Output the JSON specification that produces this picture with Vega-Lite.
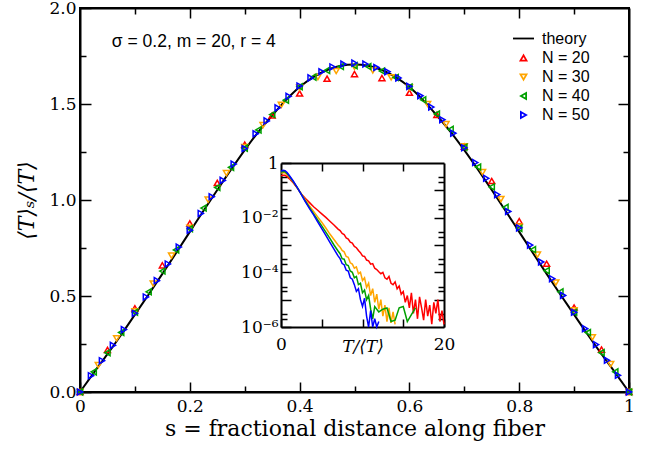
{
  "$schema": "https://vega.github.io/schema/vega-lite/v6.json",
  "width": 549,
  "height": 384,
  "autosize": {"type": "none"},
  "padding": {"left": 80, "top": 8, "right": 17, "bottom": 61},
  "background": "white",
  "config": {
    "view": {"stroke": "black", "strokeWidth": 2},
    "axis": {"labelFlush": false, "labelOverlap": false, "labelBound": false, "grid": false, "domainColor": "black", "domainWidth": 2, "tickColor": "black", "tickWidth": 1.5, "labelColor": "black", "titleColor": "black", "titleFontWeight": "normal"}
  },
  "datasets": {
    "theory": [
      {"s": 0, "y": 0}, {"s": 0.025, "y": 0.1}, {"s": 0.05, "y": 0.197}, {"s": 0.075, "y": 0.298}, {"s": 0.1, "y": 0.403}, {"s": 0.125, "y": 0.508}, {"s": 0.15, "y": 0.615}, {"s": 0.175, "y": 0.724}, {"s": 0.2, "y": 0.834}, {"s": 0.225, "y": 0.944}, {"s": 0.25, "y": 1.052}, {"s": 0.275, "y": 1.158}, {"s": 0.3, "y": 1.26}, {"s": 0.325, "y": 1.355}, {"s": 0.35, "y": 1.44}, {"s": 0.375, "y": 1.52}, {"s": 0.4, "y": 1.588}, {"s": 0.425, "y": 1.64}, {"s": 0.45, "y": 1.677}, {"s": 0.475, "y": 1.699}, {"s": 0.5, "y": 1.706},
      {"s": 0.525, "y": 1.699}, {"s": 0.55, "y": 1.677}, {"s": 0.575, "y": 1.64}, {"s": 0.6, "y": 1.588}, {"s": 0.625, "y": 1.52}, {"s": 0.65, "y": 1.44}, {"s": 0.675, "y": 1.355}, {"s": 0.7, "y": 1.26}, {"s": 0.725, "y": 1.158}, {"s": 0.75, "y": 1.052}, {"s": 0.775, "y": 0.944}, {"s": 0.8, "y": 0.834}, {"s": 0.825, "y": 0.724}, {"s": 0.85, "y": 0.615}, {"s": 0.875, "y": 0.508}, {"s": 0.9, "y": 0.403}, {"s": 0.925, "y": 0.298}, {"s": 0.95, "y": 0.197}, {"s": 0.975, "y": 0.1}, {"s": 1, "y": 0}
    ],
    "pts": [
      {"s": 0, "y": 0, "series": "N = 20"}, {"s": 0.05, "y": 0.219, "series": "N = 20"}, {"s": 0.1, "y": 0.436, "series": "N = 20"}, {"s": 0.15, "y": 0.66, "series": "N = 20"}, {"s": 0.2, "y": 0.878, "series": "N = 20"}, {"s": 0.25, "y": 1.089, "series": "N = 20"}, {"s": 0.3, "y": 1.288, "series": "N = 20"}, {"s": 0.35, "y": 1.44, "series": "N = 20"}, {"s": 0.4, "y": 1.555, "series": "N = 20"}, {"s": 0.45, "y": 1.632, "series": "N = 20"}, {"s": 0.5, "y": 1.656, "series": "N = 20"}, {"s": 0.55, "y": 1.635, "series": "N = 20"}, {"s": 0.6, "y": 1.559, "series": "N = 20"}, {"s": 0.65, "y": 1.443, "series": "N = 20"}, {"s": 0.7, "y": 1.278, "series": "N = 20"}, {"s": 0.75, "y": 1.099, "series": "N = 20"}, {"s": 0.8, "y": 0.89, "series": "N = 20"}, {"s": 0.85, "y": 0.668, "series": "N = 20"}, {"s": 0.9, "y": 0.44, "series": "N = 20"}, {"s": 0.95, "y": 0.221, "series": "N = 20"}, {"s": 1, "y": 0, "series": "N = 20"},
      {"s": 0, "y": 0, "series": "N = 30"}, {"s": 0.0333, "y": 0.14, "series": "N = 30"}, {"s": 0.0667, "y": 0.28, "series": "N = 30"}, {"s": 0.1, "y": 0.42, "series": "N = 30"}, {"s": 0.1333, "y": 0.565, "series": "N = 30"}, {"s": 0.1667, "y": 0.71, "series": "N = 30"}, {"s": 0.2, "y": 0.855, "series": "N = 30"}, {"s": 0.2333, "y": 1.002, "series": "N = 30"}, {"s": 0.2667, "y": 1.14, "series": "N = 30"}, {"s": 0.3, "y": 1.275, "series": "N = 30"}, {"s": 0.3333, "y": 1.39, "series": "N = 30"}, {"s": 0.3667, "y": 1.495, "series": "N = 30"}, {"s": 0.4, "y": 1.585, "series": "N = 30"}, {"s": 0.4333, "y": 1.64, "series": "N = 30"}, {"s": 0.4667, "y": 1.672, "series": "N = 30"}, {"s": 0.5, "y": 1.694, "series": "N = 30"}, {"s": 0.5333, "y": 1.675, "series": "N = 30"}, {"s": 0.5667, "y": 1.639, "series": "N = 30"}, {"s": 0.6, "y": 1.585, "series": "N = 30"}, {"s": 0.6333, "y": 1.5, "series": "N = 30"}, {"s": 0.6667, "y": 1.395, "series": "N = 30"}, {"s": 0.7, "y": 1.28, "series": "N = 30"}, {"s": 0.7333, "y": 1.145, "series": "N = 30"}, {"s": 0.7667, "y": 1.005, "series": "N = 30"}, {"s": 0.8, "y": 0.862, "series": "N = 30"}, {"s": 0.8333, "y": 0.715, "series": "N = 30"}, {"s": 0.8667, "y": 0.57, "series": "N = 30"}, {"s": 0.9, "y": 0.425, "series": "N = 30"}, {"s": 0.9333, "y": 0.285, "series": "N = 30"}, {"s": 0.9667, "y": 0.145, "series": "N = 30"}, {"s": 1, "y": 0, "series": "N = 30"},
      {"s": 0, "y": 0, "series": "N = 40"}, {"s": 0.025, "y": 0.105, "series": "N = 40"}, {"s": 0.05, "y": 0.205, "series": "N = 40"}, {"s": 0.075, "y": 0.31, "series": "N = 40"}, {"s": 0.1, "y": 0.415, "series": "N = 40"}, {"s": 0.125, "y": 0.522, "series": "N = 40"}, {"s": 0.15, "y": 0.63, "series": "N = 40"}, {"s": 0.175, "y": 0.74, "series": "N = 40"}, {"s": 0.2, "y": 0.85, "series": "N = 40"}, {"s": 0.225, "y": 0.958, "series": "N = 40"}, {"s": 0.25, "y": 1.065, "series": "N = 40"}, {"s": 0.275, "y": 1.17, "series": "N = 40"}, {"s": 0.3, "y": 1.27, "series": "N = 40"}, {"s": 0.325, "y": 1.365, "series": "N = 40"}, {"s": 0.35, "y": 1.445, "series": "N = 40"}, {"s": 0.375, "y": 1.52, "series": "N = 40"}, {"s": 0.4, "y": 1.59, "series": "N = 40"}, {"s": 0.425, "y": 1.64, "series": "N = 40"}, {"s": 0.45, "y": 1.675, "series": "N = 40"}, {"s": 0.475, "y": 1.695, "series": "N = 40"}, {"s": 0.5, "y": 1.7, "series": "N = 40"}, {"s": 0.525, "y": 1.695, "series": "N = 40"}, {"s": 0.55, "y": 1.672, "series": "N = 40"}, {"s": 0.575, "y": 1.638, "series": "N = 40"}, {"s": 0.6, "y": 1.588, "series": "N = 40"}, {"s": 0.625, "y": 1.522, "series": "N = 40"}, {"s": 0.65, "y": 1.448, "series": "N = 40"}, {"s": 0.675, "y": 1.368, "series": "N = 40"}, {"s": 0.7, "y": 1.275, "series": "N = 40"}, {"s": 0.725, "y": 1.172, "series": "N = 40"}, {"s": 0.75, "y": 1.068, "series": "N = 40"}, {"s": 0.775, "y": 0.962, "series": "N = 40"}, {"s": 0.8, "y": 0.852, "series": "N = 40"}, {"s": 0.825, "y": 0.742, "series": "N = 40"}, {"s": 0.85, "y": 0.632, "series": "N = 40"}, {"s": 0.875, "y": 0.522, "series": "N = 40"}, {"s": 0.9, "y": 0.415, "series": "N = 40"}, {"s": 0.925, "y": 0.31, "series": "N = 40"}, {"s": 0.95, "y": 0.205, "series": "N = 40"}, {"s": 0.975, "y": 0.105, "series": "N = 40"}, {"s": 1, "y": 0, "series": "N = 40"},
      {"s": 0, "y": 0, "series": "N = 50"}, {"s": 0.02, "y": 0.085, "series": "N = 50"}, {"s": 0.04, "y": 0.163, "series": "N = 50"}, {"s": 0.06, "y": 0.243, "series": "N = 50"}, {"s": 0.08, "y": 0.325, "series": "N = 50"}, {"s": 0.1, "y": 0.41, "series": "N = 50"}, {"s": 0.12, "y": 0.495, "series": "N = 50"}, {"s": 0.14, "y": 0.58, "series": "N = 50"}, {"s": 0.16, "y": 0.667, "series": "N = 50"}, {"s": 0.18, "y": 0.755, "series": "N = 50"}, {"s": 0.2, "y": 0.843, "series": "N = 50"}, {"s": 0.22, "y": 0.93, "series": "N = 50"}, {"s": 0.24, "y": 1.017, "series": "N = 50"}, {"s": 0.26, "y": 1.102, "series": "N = 50"}, {"s": 0.28, "y": 1.187, "series": "N = 50"}, {"s": 0.3, "y": 1.268, "series": "N = 50"}, {"s": 0.32, "y": 1.345, "series": "N = 50"}, {"s": 0.34, "y": 1.412, "series": "N = 50"}, {"s": 0.36, "y": 1.48, "series": "N = 50"}, {"s": 0.38, "y": 1.54, "series": "N = 50"}, {"s": 0.4, "y": 1.594, "series": "N = 50"}, {"s": 0.42, "y": 1.636, "series": "N = 50"}, {"s": 0.44, "y": 1.668, "series": "N = 50"}, {"s": 0.46, "y": 1.693, "series": "N = 50"}, {"s": 0.48, "y": 1.708, "series": "N = 50"}, {"s": 0.5, "y": 1.713, "series": "N = 50"}, {"s": 0.52, "y": 1.708, "series": "N = 50"}, {"s": 0.54, "y": 1.69, "series": "N = 50"}, {"s": 0.56, "y": 1.668, "series": "N = 50"}, {"s": 0.58, "y": 1.636, "series": "N = 50"}, {"s": 0.6, "y": 1.592, "series": "N = 50"}, {"s": 0.62, "y": 1.543, "series": "N = 50"}, {"s": 0.64, "y": 1.484, "series": "N = 50"}, {"s": 0.66, "y": 1.418, "series": "N = 50"}, {"s": 0.68, "y": 1.348, "series": "N = 50"}, {"s": 0.7, "y": 1.272, "series": "N = 50"}, {"s": 0.72, "y": 1.195, "series": "N = 50"}, {"s": 0.74, "y": 1.113, "series": "N = 50"}, {"s": 0.76, "y": 1.028, "series": "N = 50"}, {"s": 0.78, "y": 0.94, "series": "N = 50"}, {"s": 0.8, "y": 0.855, "series": "N = 50"}, {"s": 0.82, "y": 0.765, "series": "N = 50"}, {"s": 0.84, "y": 0.677, "series": "N = 50"}, {"s": 0.86, "y": 0.59, "series": "N = 50"}, {"s": 0.88, "y": 0.503, "series": "N = 50"}, {"s": 0.9, "y": 0.415, "series": "N = 50"}, {"s": 0.92, "y": 0.33, "series": "N = 50"}, {"s": 0.94, "y": 0.247, "series": "N = 50"}, {"s": 0.96, "y": 0.165, "series": "N = 50"}, {"s": 0.98, "y": 0.087, "series": "N = 50"}, {"s": 1, "y": 0, "series": "N = 50"}
    ],
    "note": [{"s": 0.058, "y": 1.824, "label": "σ = 0.2, m = 20, r = 4"}],
    "inset": [
      {"x": 0, "lg": -0.47, "series": "N = 20"}, {"x": 0.25, "lg": -0.45, "series": "N = 20"}, {"x": 0.5, "lg": -0.45, "series": "N = 20"}, {"x": 0.75, "lg": -0.5, "series": "N = 20"}, {"x": 1, "lg": -0.57, "series": "N = 20"}, {"x": 1.5, "lg": -0.72, "series": "N = 20"}, {"x": 2, "lg": -0.92, "series": "N = 20"}, {"x": 2.5, "lg": -1.13, "series": "N = 20"}, {"x": 3, "lg": -1.3, "series": "N = 20"}, {"x": 3.5, "lg": -1.45, "series": "N = 20"}, {"x": 4, "lg": -1.6, "series": "N = 20"}, {"x": 4.5, "lg": -1.73, "series": "N = 20"}, {"x": 5, "lg": -1.86, "series": "N = 20"}, {"x": 5.5, "lg": -1.99, "series": "N = 20"}, {"x": 6, "lg": -2.13, "series": "N = 20"}, {"x": 6.5, "lg": -2.27, "series": "N = 20"}, {"x": 7, "lg": -2.42, "series": "N = 20"}, {"x": 7.25, "lg": -2.47, "series": "N = 20"}, {"x": 7.5, "lg": -2.58, "series": "N = 20"}, {"x": 7.75, "lg": -2.62, "series": "N = 20"}, {"x": 8, "lg": -2.74, "series": "N = 20"}, {"x": 8.25, "lg": -2.78, "series": "N = 20"}, {"x": 8.5, "lg": -2.9, "series": "N = 20"}, {"x": 8.75, "lg": -2.93, "series": "N = 20"}, {"x": 9, "lg": -3.05, "series": "N = 20"}, {"x": 9.25, "lg": -3.1, "series": "N = 20"}, {"x": 9.5, "lg": -3.2, "series": "N = 20"}, {"x": 9.75, "lg": -3.28, "series": "N = 20"}, {"x": 10, "lg": -3.4, "series": "N = 20"}, {"x": 10.25, "lg": -3.42, "series": "N = 20"}, {"x": 10.5, "lg": -3.55, "series": "N = 20"}, {"x": 10.75, "lg": -3.58, "series": "N = 20"}, {"x": 11, "lg": -3.7, "series": "N = 20"}, {"x": 11.25, "lg": -3.68, "series": "N = 20"}, {"x": 11.5, "lg": -3.85, "series": "N = 20"}, {"x": 11.75, "lg": -3.9, "series": "N = 20"}, {"x": 12, "lg": -3.98, "series": "N = 20"}, {"x": 12.25, "lg": -4.05, "series": "N = 20"}, {"x": 12.5, "lg": -4.0, "series": "N = 20"}, {"x": 12.75, "lg": -4.2, "series": "N = 20"}, {"x": 13, "lg": -4.25, "series": "N = 20"}, {"x": 13.25, "lg": -4.15, "series": "N = 20"}, {"x": 13.5, "lg": -4.4, "series": "N = 20"}, {"x": 13.75, "lg": -4.45, "series": "N = 20"}, {"x": 14, "lg": -4.35, "series": "N = 20"}, {"x": 14.25, "lg": -4.6, "series": "N = 20"}, {"x": 14.5, "lg": -4.5, "series": "N = 20"}, {"x": 14.75, "lg": -4.8, "series": "N = 20"}, {"x": 15, "lg": -4.7, "series": "N = 20"}, {"x": 15.25, "lg": -5.1, "series": "N = 20"}, {"x": 15.5, "lg": -4.85, "series": "N = 20"}, {"x": 15.75, "lg": -5.3, "series": "N = 20"}, {"x": 16, "lg": -4.75, "series": "N = 20"}, {"x": 16.25, "lg": -5.5, "series": "N = 20"}, {"x": 16.5, "lg": -5.0, "series": "N = 20"}, {"x": 16.75, "lg": -5.7, "series": "N = 20"}, {"x": 17, "lg": -4.9, "series": "N = 20"}, {"x": 17.25, "lg": -5.3, "series": "N = 20"}, {"x": 17.5, "lg": -5.75, "series": "N = 20"}, {"x": 17.75, "lg": -5.0, "series": "N = 20"}, {"x": 18, "lg": -5.6, "series": "N = 20"}, {"x": 18.25, "lg": -5.2, "series": "N = 20"}, {"x": 18.5, "lg": -5.9, "series": "N = 20"}, {"x": 18.75, "lg": -5.1, "series": "N = 20"}, {"x": 19, "lg": -5.5, "series": "N = 20"}, {"x": 19.25, "lg": -5.0, "series": "N = 20"}, {"x": 19.5, "lg": -5.8, "series": "N = 20"}, {"x": 19.75, "lg": -5.4, "series": "N = 20"}, {"x": 20, "lg": -5.9, "series": "N = 20"},
      {"x": 0, "lg": -0.37, "series": "N = 30"}, {"x": 0.25, "lg": -0.35, "series": "N = 30"}, {"x": 0.5, "lg": -0.36, "series": "N = 30"}, {"x": 0.75, "lg": -0.42, "series": "N = 30"}, {"x": 1, "lg": -0.5, "series": "N = 30"}, {"x": 1.5, "lg": -0.69, "series": "N = 30"}, {"x": 2, "lg": -0.91, "series": "N = 30"}, {"x": 2.5, "lg": -1.14, "series": "N = 30"}, {"x": 3, "lg": -1.36, "series": "N = 30"}, {"x": 3.5, "lg": -1.57, "series": "N = 30"}, {"x": 4, "lg": -1.77, "series": "N = 30"}, {"x": 4.5, "lg": -1.97, "series": "N = 30"}, {"x": 5, "lg": -2.17, "series": "N = 30"}, {"x": 5.5, "lg": -2.38, "series": "N = 30"}, {"x": 6, "lg": -2.6, "series": "N = 30"}, {"x": 6.5, "lg": -2.8, "series": "N = 30"}, {"x": 7, "lg": -3.0, "series": "N = 30"}, {"x": 7.25, "lg": -3.08, "series": "N = 30"}, {"x": 7.5, "lg": -3.2, "series": "N = 30"}, {"x": 7.75, "lg": -3.25, "series": "N = 30"}, {"x": 8, "lg": -3.42, "series": "N = 30"}, {"x": 8.25, "lg": -3.45, "series": "N = 30"}, {"x": 8.5, "lg": -3.65, "series": "N = 30"}, {"x": 8.75, "lg": -3.7, "series": "N = 30"}, {"x": 9, "lg": -3.85, "series": "N = 30"}, {"x": 9.25, "lg": -3.8, "series": "N = 30"}, {"x": 9.5, "lg": -4.05, "series": "N = 30"}, {"x": 9.75, "lg": -4.0, "series": "N = 30"}, {"x": 10, "lg": -4.3, "series": "N = 30"}, {"x": 10.25, "lg": -4.2, "series": "N = 30"}, {"x": 10.5, "lg": -4.55, "series": "N = 30"}, {"x": 10.75, "lg": -4.4, "series": "N = 30"}, {"x": 11, "lg": -4.85, "series": "N = 30"}, {"x": 11.25, "lg": -4.6, "series": "N = 30"}, {"x": 11.5, "lg": -5.1, "series": "N = 30"}, {"x": 11.75, "lg": -4.8, "series": "N = 30"}, {"x": 12, "lg": -5.35, "series": "N = 30"}, {"x": 12.25, "lg": -5.0, "series": "N = 30"}, {"x": 12.5, "lg": -5.6, "series": "N = 30"}, {"x": 12.75, "lg": -5.2, "series": "N = 30"}, {"x": 13, "lg": -5.8, "series": "N = 30"}, {"x": 13.25, "lg": -5.3, "series": "N = 30"}, {"x": 13.5, "lg": -5.85, "series": "N = 30"}, {"x": 13.75, "lg": -5.45, "series": "N = 30"}, {"x": 14, "lg": -5.9, "series": "N = 30"},
      {"x": 0, "lg": -0.33, "series": "N = 40"}, {"x": 0.25, "lg": -0.31, "series": "N = 40"}, {"x": 0.5, "lg": -0.32, "series": "N = 40"}, {"x": 0.75, "lg": -0.39, "series": "N = 40"}, {"x": 1, "lg": -0.48, "series": "N = 40"}, {"x": 1.5, "lg": -0.68, "series": "N = 40"}, {"x": 2, "lg": -0.9, "series": "N = 40"}, {"x": 2.5, "lg": -1.15, "series": "N = 40"}, {"x": 3, "lg": -1.4, "series": "N = 40"}, {"x": 3.5, "lg": -1.63, "series": "N = 40"}, {"x": 4, "lg": -1.86, "series": "N = 40"}, {"x": 4.5, "lg": -2.08, "series": "N = 40"}, {"x": 5, "lg": -2.3, "series": "N = 40"}, {"x": 5.5, "lg": -2.53, "series": "N = 40"}, {"x": 6, "lg": -2.76, "series": "N = 40"}, {"x": 6.5, "lg": -3.0, "series": "N = 40"}, {"x": 7, "lg": -3.22, "series": "N = 40"}, {"x": 7.25, "lg": -3.32, "series": "N = 40"}, {"x": 7.5, "lg": -3.5, "series": "N = 40"}, {"x": 7.75, "lg": -3.52, "series": "N = 40"}, {"x": 8, "lg": -3.72, "series": "N = 40"}, {"x": 8.25, "lg": -3.75, "series": "N = 40"}, {"x": 8.5, "lg": -3.95, "series": "N = 40"}, {"x": 8.75, "lg": -4.0, "series": "N = 40"}, {"x": 9, "lg": -4.2, "series": "N = 40"}, {"x": 9.25, "lg": -4.15, "series": "N = 40"}, {"x": 9.5, "lg": -4.45, "series": "N = 40"}, {"x": 9.75, "lg": -4.4, "series": "N = 40"}, {"x": 10, "lg": -4.75, "series": "N = 40"}, {"x": 10.25, "lg": -4.65, "series": "N = 40"}, {"x": 10.5, "lg": -5.0, "series": "N = 40"}, {"x": 10.75, "lg": -4.85, "series": "N = 40"}, {"x": 11, "lg": -5.35, "series": "N = 40"}, {"x": 11.25, "lg": -5.7, "series": "N = 40"}, {"x": 11.5, "lg": -5.25, "series": "N = 40"}, {"x": 12, "lg": -5.45, "series": "N = 40"}, {"x": 12.5, "lg": -5.35, "series": "N = 40"}, {"x": 13, "lg": -5.3, "series": "N = 40"}, {"x": 13.5, "lg": -5.8, "series": "N = 40"}, {"x": 14, "lg": -5.75, "series": "N = 40"}, {"x": 14.5, "lg": -5.3, "series": "N = 40"}, {"x": 15, "lg": -5.25, "series": "N = 40"}, {"x": 15.5, "lg": -5.8, "series": "N = 40"}, {"x": 16, "lg": -5.55, "series": "N = 40"}, {"x": 16.5, "lg": -5.3, "series": "N = 40"},
      {"x": 0, "lg": -0.3, "series": "N = 50"}, {"x": 0.25, "lg": -0.27, "series": "N = 50"}, {"x": 0.5, "lg": -0.28, "series": "N = 50"}, {"x": 0.75, "lg": -0.35, "series": "N = 50"}, {"x": 1, "lg": -0.45, "series": "N = 50"}, {"x": 1.5, "lg": -0.66, "series": "N = 50"}, {"x": 2, "lg": -0.9, "series": "N = 50"}, {"x": 2.5, "lg": -1.16, "series": "N = 50"}, {"x": 3, "lg": -1.42, "series": "N = 50"}, {"x": 3.5, "lg": -1.67, "series": "N = 50"}, {"x": 4, "lg": -1.9, "series": "N = 50"}, {"x": 4.5, "lg": -2.15, "series": "N = 50"}, {"x": 5, "lg": -2.4, "series": "N = 50"}, {"x": 5.5, "lg": -2.65, "series": "N = 50"}, {"x": 6, "lg": -2.9, "series": "N = 50"}, {"x": 6.5, "lg": -3.15, "series": "N = 50"}, {"x": 7, "lg": -3.4, "series": "N = 50"}, {"x": 7.25, "lg": -3.5, "series": "N = 50"}, {"x": 7.5, "lg": -3.68, "series": "N = 50"}, {"x": 7.75, "lg": -3.72, "series": "N = 50"}, {"x": 8, "lg": -3.92, "series": "N = 50"}, {"x": 8.25, "lg": -3.95, "series": "N = 50"}, {"x": 8.5, "lg": -4.2, "series": "N = 50"}, {"x": 8.75, "lg": -4.25, "series": "N = 50"}, {"x": 9, "lg": -4.45, "series": "N = 50"}, {"x": 9.25, "lg": -4.7, "series": "N = 50"}, {"x": 9.5, "lg": -4.6, "series": "N = 50"}, {"x": 9.75, "lg": -5.0, "series": "N = 50"}, {"x": 10, "lg": -5.25, "series": "N = 50"}, {"x": 10.25, "lg": -4.95, "series": "N = 50"}, {"x": 10.5, "lg": -5.6, "series": "N = 50"}, {"x": 10.75, "lg": -6.2, "series": "N = 50"}, {"x": 11, "lg": -5.4, "series": "N = 50"}, {"x": 11.25, "lg": -6.3, "series": "N = 50"}, {"x": 11.5, "lg": -5.7, "series": "N = 50"}, {"x": 11.75, "lg": -6.2, "series": "N = 50"}, {"x": 12, "lg": -5.8, "series": "N = 50"}
    ],
    "axisrow": [{"s": 0, "y": 0, "x": 0, "lg": 0}]
  },
  "resolve": {"scale": {"x": "independent", "y": "independent"}, "axis": {"x": "independent", "y": "independent"}},
  "layer": [
    {
      "encoding": {
        "x": {"field": "s", "type": "quantitative", "scale": {"domain": [0, 1], "nice": false, "zero": false},
          "axis": {"orient": "bottom", "values": [0, 0.2, 0.4, 0.6, 0.8, 1], "format": "~g", "tickSize": -10, "labelPadding": 16, "labelFont": "DejaVu Serif", "labelFontSize": 17, "title": "s = fractional distance along fiber", "titleFont": "DejaVu Serif", "titleFontSize": 22, "titlePadding": 4}},
        "y": {"field": "y", "type": "quantitative", "scale": {"domain": [0, 2], "nice": false, "zero": false},
          "axis": {"orient": "left", "values": [0, 0.5, 1, 1.5, 2], "format": ".1f", "tickSize": -11, "labelPadding": 15, "labelFont": "DejaVu Serif", "labelFontSize": 17, "title": "⟨T⟩ₛ/⟨T⟩", "titleFont": "DejaVu Serif", "titleFontSize": 22, "titleFontStyle": "italic", "titlePadding": 10}}
      },
      "layer": [
        {"data": {"name": "theory"}, "mark": {"type": "line", "color": "black", "strokeWidth": 2, "interpolate": "monotone"}},
        {"data": {"name": "pts"}, "mark": {"type": "point", "filled": false, "strokeWidth": 1.5, "opacity": 1},
          "encoding": {
            "color": {"field": "series", "type": "nominal", "scale": {"domain": ["theory", "N = 20", "N = 30", "N = 40", "N = 50"], "range": ["black", "#ff0000", "#ffa500", "#00a000", "#0000ff"]},
              "legend": {"orient": "none", "legendX": 432, "legendY": 19, "title": null, "labelFont": "Liberation Sans", "labelFontSize": 16, "labelColor": "black", "symbolStrokeWidth": 1.8, "rowPadding": 3, "labelOffset": 7, "padding": 0}},
            "shape": {"field": "series", "type": "nominal", "scale": {"domain": ["theory", "N = 20", "N = 30", "N = 40", "N = 50"], "range": ["stroke", "triangle-up", "triangle-down", "triangle-left", "triangle-right"]},
              "legend": {"orient": "none", "legendX": 432, "legendY": 19, "title": null, "labelFont": "Liberation Sans", "labelFontSize": 16, "labelColor": "black", "symbolStrokeWidth": 1.8, "rowPadding": 3, "labelOffset": 7, "padding": 0}},
            "size": {"field": "series", "type": "ordinal", "scale": {"type": "ordinal", "domain": ["theory", "N = 20", "N = 30", "N = 40", "N = 50"], "range": [440, 36, 36, 36, 36]},
              "legend": {"orient": "none", "legendX": 432, "legendY": 19, "title": null, "labelFont": "Liberation Sans", "labelFontSize": 16, "labelColor": "black", "symbolStrokeWidth": 1.8, "rowPadding": 3, "labelOffset": 7, "padding": 0}}
          }},
        {"data": {"name": "note"}, "mark": {"type": "text", "align": "left", "baseline": "middle", "font": "Liberation Sans", "fontSize": 17.5, "color": "black"},
          "encoding": {"text": {"field": "label"}}}
      ]
    },
    {
      "data": {"name": "axisrow"},
      "mark": {"type": "point", "opacity": 0},
      "encoding": {
        "x": {"field": "s", "type": "quantitative", "scale": {"domain": [0, 1], "nice": false, "zero": false},
          "axis": {"orient": "bottom", "values": [0.1, 0.3, 0.5, 0.7, 0.9], "tickSize": -6, "labels": false, "domain": false, "title": null}},
        "y": {"field": "y", "type": "quantitative", "scale": {"domain": [0, 2], "nice": false, "zero": false},
          "axis": {"orient": "left", "values": [0.25, 0.75, 1.25, 1.75], "tickSize": -6, "labels": false, "domain": false, "title": null}}
      }
    },
    {
      "data": {"name": "axisrow"},
      "mark": {"type": "point", "opacity": 0},
      "encoding": {
        "x": {"field": "s", "type": "quantitative", "scale": {"domain": [0, 1], "nice": false, "zero": false},
          "axis": {"orient": "top", "values": [0.2, 0.4, 0.6, 0.8], "tickSize": -10, "labels": false, "title": null}},
        "y": {"field": "y", "type": "quantitative", "scale": {"domain": [0, 2], "nice": false, "zero": false},
          "axis": {"orient": "right", "values": [0.5, 1, 1.5], "tickSize": -11, "labels": false, "title": null}}
      }
    },
    {
      "data": {"name": "axisrow"},
      "mark": {"type": "point", "opacity": 0},
      "encoding": {
        "x": {"field": "s", "type": "quantitative", "scale": {"domain": [0, 1], "nice": false, "zero": false},
          "axis": {"orient": "top", "values": [0.1, 0.3, 0.5, 0.7, 0.9], "tickSize": -6, "labels": false, "domain": false, "title": null}},
        "y": {"field": "y", "type": "quantitative", "scale": {"domain": [0, 2], "nice": false, "zero": false},
          "axis": {"orient": "right", "values": [0.25, 0.75, 1.25, 1.75], "tickSize": -6, "labels": false, "domain": false, "title": null}}
      }
    },
    {
      "data": {"name": "inset"},
      "mark": {"type": "line", "strokeWidth": 1.5},
      "encoding": {
        "x": {"field": "x", "type": "quantitative", "scale": {"domain": [0, 20], "range": [201, 364], "nice": false, "zero": false},
          "axis": {"orient": "bottom", "offset": -65, "values": [0, 5, 10, 15, 20], "labelExpr": "datum.value == 0 || datum.value == 20 ? datum.label : ''", "tickSize": -8, "labelPadding": 17, "labelFont": "DejaVu Serif", "labelFontSize": 17, "title": "T/⟨T⟩", "titleFont": "DejaVu Serif", "titleFontSize": 17, "titleFontStyle": "italic", "titlePadding": -14}},
        "y": {"field": "lg", "type": "quantitative", "scale": {"domain": [-6, 0], "range": [319, 155], "nice": false, "zero": false, "clamp": true},
          "axis": {"orient": "left", "offset": -201, "values": [-6, -5, -4, -3, -2, -1, 0], "labelExpr": "datum.value == 0 ? '1' : datum.value == -2 ? '10⁻²' : datum.value == -4 ? '10⁻⁴' : datum.value == -6 ? '10⁻⁶' : ''", "tickSize": -10, "labelPadding": 13, "labelFont": "DejaVu Serif", "labelFontSize": 17, "title": null}},
        "color": {"field": "series", "type": "nominal", "legend": null},
        "order": {"field": "x", "type": "quantitative"}
      }
    },
    {
      "data": {"name": "axisrow"},
      "mark": {"type": "point", "opacity": 0},
      "encoding": {
        "x": {"field": "x", "type": "quantitative", "scale": {"domain": [0, 20], "range": [201, 364], "nice": false, "zero": false},
          "axis": {"orient": "top", "offset": -155, "values": [5, 10, 15], "tickSize": -8, "labels": false, "title": null}},
        "y": {"field": "lg", "type": "quantitative", "scale": {"domain": [-6, 0], "range": [319, 155], "nice": false, "zero": false},
          "axis": {"orient": "left", "offset": -201, "values": [-5.699, -5.523, -4.699, -4.523, -3.699, -3.523, -2.699, -2.523, -1.699, -1.523, -0.699, -0.523], "tickSize": -6, "labels": false, "domain": false, "title": null}}
      }
    },
    {
      "data": {"name": "axisrow"},
      "mark": {"type": "point", "opacity": 0},
      "encoding": {
        "y": {"field": "lg", "type": "quantitative", "scale": {"domain": [-6, 0], "range": [319, 155], "nice": false, "zero": false},
          "axis": {"orient": "right", "offset": -185, "values": [-5, -4, -3, -2, -1], "tickSize": -10, "labels": false, "title": null}}
      }
    },
    {
      "data": {"name": "axisrow"},
      "mark": {"type": "point", "opacity": 0},
      "encoding": {
        "y": {"field": "lg", "type": "quantitative", "scale": {"domain": [-6, 0], "range": [319, 155], "nice": false, "zero": false},
          "axis": {"orient": "right", "offset": -185, "values": [-5.699, -5.523, -4.699, -4.523, -3.699, -3.523, -2.699, -2.523, -1.699, -1.523, -0.699, -0.523], "tickSize": -6, "labels": false, "domain": false, "title": null}}
      }
    }
  ]
}
